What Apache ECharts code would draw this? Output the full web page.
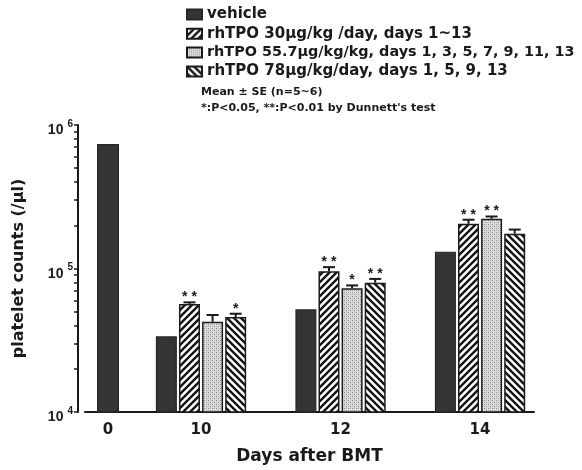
<!DOCTYPE html>
<html>
<head>
<meta charset="utf-8">
<script src="https://cdn.jsdelivr.net/npm/echarts@6/dist/echarts.min.js"></script>
<style>
  html, body { margin: 0; padding: 0; background: #fff; }
  #chart { width: 582px; height: 470px; }
</style>
</head>
<body>
<div id="chart"></div>
<script>
// Slots along the x axis; blank slots leave the spacing between days.
const dayLabels = ['0', '', '10', '', '', '12', '', '', '14'];

const seriesNames = [
  'vehicle',
  'rhTPO 30µg/kg /day, days 1~13',
  'rhTPO 55.7µg/kg/kg, days 1, 3, 5, 7, 9, 11, 13',
  'rhTPO 78µg/kg/day, days 1, 5, 9, 13'
];

// Platelet counts (/µl), mean and SE per slot
const vehicleMean = [738000, null, 33700, null, null, 51900, null, null, 131000];
const tpo30Mean   = [null, null, 56600, null, null, 95700, null, null, 204700];
const tpo30SE     = [null, null, 1500, null, null, 6500, null, null, 14000];
const tpo55Mean   = [null, null, 42500, null, null, 72700, null, null, 222400];
const tpo55SE     = [null, null, 4900, null, null, 3500, null, null, 8000];
const tpo78Mean   = [null, null, 45900, null, null, 79600, null, null, 174800];
const tpo78SE     = [null, null, 2500, null, null, 5000, null, null, 12000];

// Dunnett's test marks
const tpo30Stars = ['', '', '**', '', '', '**', '', '', '**'];
const tpo55Stars = ['', '', '', '', '', '*', '', '', '**'];
const tpo78Stars = ['', '', '*', '', '', '**', '', '', ''];

// y-axis ticks: decades labelled, 2..9 minor marks
const yLabelValues = [1e4, 1e5, 1e6];
const yTickValues = [
  1e4, 2e4, 3e4, 4e4, 5e4, 6e4, 7e4, 8e4, 9e4,
  1e5, 2e5, 3e5, 4e5, 5e5, 6e5, 7e5, 8e5, 9e5, 1e6
];

const FONT = '"Liberation Sans", Arial, Helvetica, sans-serif';
const WIDE = '"DejaVu Sans", Verdana, sans-serif';
const INK = '#1a1a1a';

// Fill patterns
function stripePattern(forward) {
  const s = 7;
  const c = document.createElement('canvas');
  c.width = s; c.height = s;
  const g = c.getContext('2d');
  g.fillStyle = '#ffffff';
  g.fillRect(0, 0, s, s);
  g.strokeStyle = '#141414';
  g.lineWidth = 2.4;
  g.beginPath();
  if (forward) {
    g.moveTo(-1, s + 1); g.lineTo(s + 1, -1);
    g.moveTo(-2, 2); g.lineTo(2, -2);
    g.moveTo(s - 2, s + 2); g.lineTo(s + 2, s - 2);
  } else {
    g.moveTo(-1, -1); g.lineTo(s + 1, s + 1);
    g.moveTo(s - 2, -2); g.lineTo(s + 2, 2);
    g.moveTo(-2, s - 2); g.lineTo(2, s + 2);
  }
  g.stroke();
  return { image: c, repeat: 'repeat' };
}
function dotPattern() {
  const s = 4;
  const c = document.createElement('canvas');
  c.width = s; c.height = s;
  const g = c.getContext('2d');
  g.fillStyle = '#dcdcdc';
  g.fillRect(0, 0, s, s);
  g.fillStyle = '#8a8a8a';
  g.fillRect(0, 0, 1, 1);
  g.fillRect(2, 2, 1, 1);
  g.fillStyle = '#b4b4b4';
  g.fillRect(2, 0, 1, 1);
  g.fillRect(0, 2, 1, 1);
  return { image: c, repeat: 'repeat' };
}

const fills = ['#343434', stripePattern(true), dotPattern(), stripePattern(false)];

const BAR_W = 21;
const BAR_GAP = 0.1;               // fraction of bar width
const PITCH = BAR_W * (1 + BAR_GAP);

const treatmentMeans = [tpo30Mean, tpo55Mean, tpo78Mean];
const treatmentSE = [tpo30SE, tpo55SE, tpo78SE];
const treatmentStars = [tpo30Stars, tpo55Stars, tpo78Stars];

// the vehicle bar stands alone where no treatment was given
const alone = vehicleMean.map((v, i) => v != null && treatmentMeans.every(a => a[i] == null));

// [slot, value] pairs for the slots that hold a value
function pairs(arr, keep) {
  const out = [];
  arr.forEach((v, i) => { if (v != null && (!keep || keep(i))) out.push([i, v]); });
  return out;
}

const labelSlots = dayLabels.map((d, i) => d ? i : -1).filter(i => i >= 0);

const barBase = {
  type: 'bar',
  barWidth: BAR_W,
  barGap: (BAR_GAP * 100) + '%'
};

const series = [
  Object.assign({}, barBase, {
    name: seriesNames[0],
    xAxisIndex: 0,
    data: pairs(vehicleMean, i => !alone[i]),
    itemStyle: { color: fills[0], borderColor: '#262626', borderWidth: 1.2 }
  })
];
treatmentMeans.forEach((arr, k) => {
  series.push(Object.assign({}, barBase, {
    name: seriesNames[k + 1],
    xAxisIndex: 0,
    data: pairs(arr),
    itemStyle: { color: fills[k + 1], borderColor: INK, borderWidth: 1.5 }
  }));
});
// lone vehicle bar on its own (hidden) axis so it sits centred on its day
series.push({
  type: 'bar',
  name: seriesNames[0],
  xAxisIndex: 1,
  barWidth: 22,
  data: pairs(vehicleMean, i => alone[i]),
  itemStyle: { color: fills[0], borderColor: '#262626', borderWidth: 1.2 }
});

// error bars and significance marks
treatmentMeans.forEach((arr, k) => {
  const pts = [];
  arr.forEach((m, i) => {
    if (m != null) pts.push([i, m, treatmentSE[k][i] || 0, treatmentStars[k][i]]);
  });
  const offset = (k + 1 - 1.5) * PITCH;
  series.push({
    type: 'custom',
    xAxisIndex: 0,
    silent: true,
    z: 5,
    data: pts,
    encode: { x: 0, y: 1 },
    renderItem: function (params, api) {
      const i = api.value(0), m = api.value(1), se = api.value(2);
      const star = pts[params.dataIndex][3];
      const base = api.coord([i, m]);
      const top = api.coord([i, m + se]);
      const x = base[0] + offset;
      const children = [];
      if (se > 0) {
        children.push({
          type: 'line',
          shape: { x1: x, y1: base[1], x2: x, y2: top[1] },
          style: { stroke: INK, lineWidth: 2 }
        });
        children.push({
          type: 'line',
          shape: { x1: x - 6, y1: top[1], x2: x + 6, y2: top[1] },
          style: { stroke: INK, lineWidth: 2 }
        });
      }
      if (star) {
        children.push({
          type: 'text',
          x: x,
          y: top[1] - 5,
          style: {
            text: star.split('').join(' '),
            textAlign: 'center',
            textVerticalAlign: 'middle',
            font: 'bold 14px ' + FONT,
            fill: INK
          }
        });
      }
      return { type: 'group', children: children };
    }
  });
});

// slot axis range: half a slot before the first day, open space after the last
const xAxisCommon = {
  type: 'value',
  min: -0.495,
  max: 9.16,
  splitLine: { show: false }
};

const legendText = { fontFamily: WIDE, fontWeight: 'bold', fontSize: 15, color: INK };

const option = {
  animation: false,
  backgroundColor: '#ffffff',
  textStyle: { fontFamily: FONT },
  legend: {
    data: seriesNames.map((n, i) => i === 2
      ? { name: n, textStyle: { fontSize: 14.4 } }
      : { name: n }),
    orient: 'vertical',
    left: 181,
    top: 2,
    itemWidth: 15,
    itemHeight: 10,
    itemGap: 4.3,
    icon: 'rect',
    selectedMode: false,
    textStyle: legendText
  },
  graphic: [
    {
      type: 'text', left: 201, top: 87,
      style: { text: 'Mean ± SE (n=5~6)', font: 'bold 11px ' + WIDE, fill: INK }
    },
    {
      type: 'text', left: 201, top: 103,
      style: { text: "*:P<0.05, **:P<0.01 by Dunnett's test", font: 'bold 11px ' + WIDE, fill: INK }
    }
  ],
  grid: { left: 85, right: 48, top: 125, bottom: 52 },
  xAxis: [
    Object.assign({}, xAxisCommon, {
      position: 'bottom',
      name: 'Days after BMT',
      nameLocation: 'middle',
      nameGap: 36,
      nameTextStyle: { fontFamily: WIDE, fontWeight: 'bold', fontSize: 17, color: INK },
      axisLine: { show: true, onZero: false, lineStyle: { color: INK, width: 2 } },
      axisTick: { show: false },
      axisLabel: {
        customValues: labelSlots,
        formatter: v => dayLabels[Math.round(v)],
        margin: 11,
        fontFamily: WIDE,
        fontWeight: 'bold',
        fontSize: 15,
        color: INK
      }
    }),
    Object.assign({}, xAxisCommon, { show: false })
  ],
  yAxis: {
    type: 'log',
    logBase: 10,
    min: 1e4,
    max: 1e6,
    position: 'left',
    offset: 7,
    name: 'platelet counts (/µl)',
    nameLocation: 'middle',
    nameGap: 51,
    nameRotate: 90,
    nameTextStyle: { fontFamily: WIDE, fontWeight: 'bold', fontSize: 16, color: INK },
    axisLine: { show: true, onZero: false, lineStyle: { color: INK, width: 2 } },
    axisTick: {
      show: true,
      inside: false,
      length: 4,
      customValues: yTickValues,
      lineStyle: { color: INK, width: 1.5 }
    },
    minorTick: { show: false },
    splitLine: { show: false },
    axisLabel: {
      customValues: yLabelValues,
      margin: 5,
      padding: [11, 0, 0, 0],
      formatter: function (v) {
        return '{b|10}{s|' + Math.round(Math.log10(v)) + '}';
      },
      rich: {
        b: { fontFamily: FONT, fontWeight: 'bold', fontSize: 14, color: INK },
        s: { fontFamily: FONT, fontWeight: 'bold', fontSize: 10, color: INK, padding: [0, 0, 13, 4] }
      }
    }
  },
  series: series
};

const chart = echarts.init(document.getElementById('chart'), null, { renderer: 'canvas' });
chart.setOption(option);
</script>
</body>
</html>
